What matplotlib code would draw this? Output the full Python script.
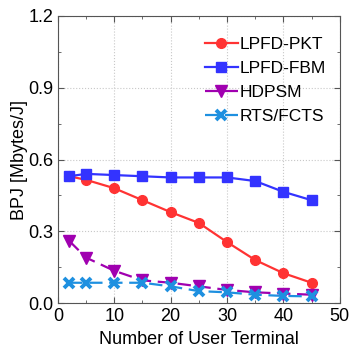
import matplotlib
matplotlib.use("Agg")
import matplotlib.pyplot as plt
from matplotlib.ticker import MultipleLocator, FormatStrFormatter

plt.rcParams['font.family'] = ['Liberation Sans', 'DejaVu Sans']

x = [2, 5, 10, 15, 20, 25, 30, 35, 40, 45]
pkt = [0.53, 0.515, 0.48, 0.43, 0.38, 0.335, 0.255, 0.18, 0.125, 0.085]
fbm = [0.53, 0.54, 0.535, 0.53, 0.525, 0.525, 0.525, 0.51, 0.465, 0.43]
hdpsm = [0.26, 0.19, 0.135, 0.095, 0.085, 0.07, 0.055, 0.045, 0.04, 0.035]
rts = [0.085, 0.085, 0.085, 0.085, 0.07, 0.05, 0.045, 0.035, 0.03, 0.028]
labels = ['LPFD-PKT', 'LPFD-FBM', 'HDPSM', 'RTS/FCTS']

fig = plt.figure(figsize=(3.51, 3.46), dpi=100)
ax = fig.add_axes([0.165, 0.124, 0.803, 0.830])

ax.plot(x, pkt, '-o', color='#ff3333', lw=1.6, ms=7, label=labels[0])
ax.plot(x, fbm, '-s', color='#3333ff', lw=1.6, ms=6.5, label=labels[1])
ax.plot(x, hdpsm, '--v', color='#a000b0', lw=1.6, ms=8, dashes=(6, 3), label=labels[2])
ax.plot(x, rts, '--x', color='#1e90e0', lw=1.6, ms=6.5, mew=2.8, dashes=(6, 3), label=labels[3])

ax.set_xlim(0, 50)
ax.set_ylim(0, 1.2)
ax.xaxis.set_major_locator(MultipleLocator(10))
ax.xaxis.set_minor_locator(MultipleLocator(5))
ax.yaxis.set_major_locator(MultipleLocator(0.3))
ax.yaxis.set_minor_locator(MultipleLocator(0.15))
ax.yaxis.set_major_formatter(FormatStrFormatter('%.1f'))
ax.grid(True, which='major', linestyle=':', color='#c8c8c8', lw=0.8)
ax.tick_params(which='both', direction='in', top=True, right=True, labelsize=13, color='#555555')
ax.tick_params(which='major', length=4)
ax.tick_params(which='minor', length=2)
for s in ax.spines.values():
    s.set_color('#555555')
ax.set_xlabel('Number of User Terminal', fontsize=13, labelpad=4)
ax.set_ylabel('BPJ [Mbytes/J]', fontsize=13, labelpad=0)

leg = ax.legend(loc='upper right', bbox_to_anchor=(1.0, 0.975), frameon=False,
                fontsize=12.5, handlelength=1.9, handletextpad=0.1,
                labelspacing=0.5, borderaxespad=0.4)

fig.savefig('out.png', dpi=100)
